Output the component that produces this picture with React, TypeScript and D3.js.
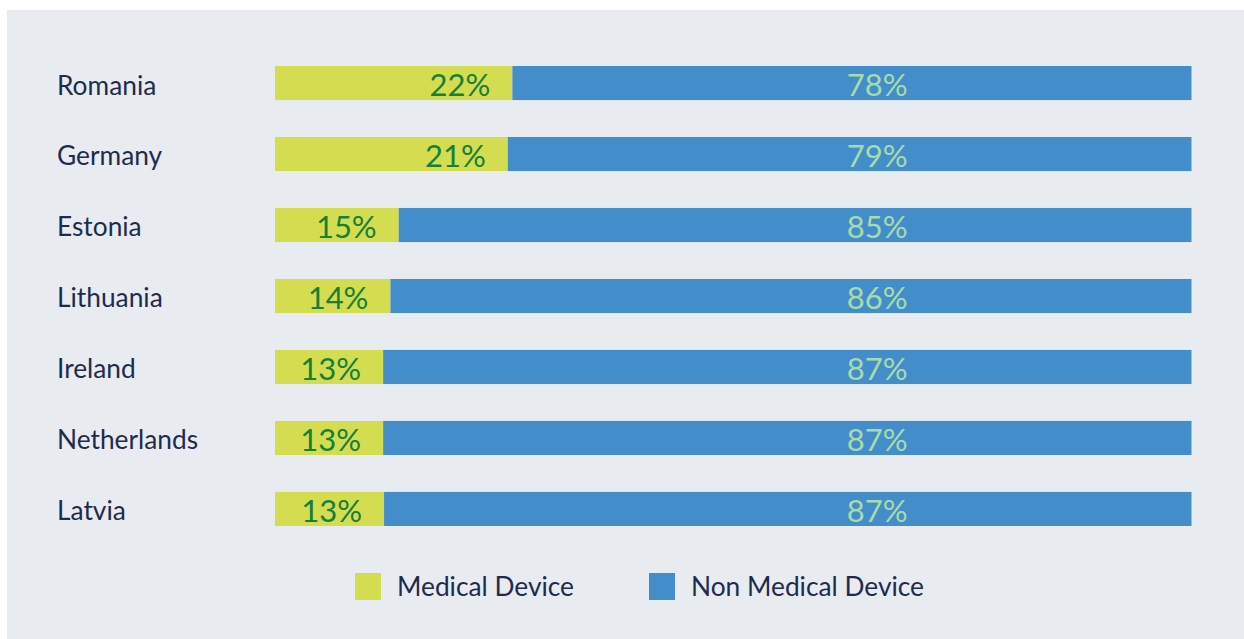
import React from "react";
import * as d3 from "d3";

const countries = ["Romania", "Germany", "Estonia", "Lithuania", "Ireland", "Netherlands", "Latvia"];
// drawn shares
const medicalShare = [25.9, 25.4, 13.5, 12.6, 11.8, 11.8, 11.9];
const nonMedicalShare = [74.1, 74.6, 86.5, 87.4, 88.2, 88.2, 88.1];
// printed labels
const medicalLabels = ["22%", "21%", "15%", "14%", "13%", "13%", "13%"];
const nonMedicalLabels = ["78%", "79%", "85%", "86%", "87%", "87%", "87%"];
const seriesNames = ["Medical Device", "Non Medical Device"];

const W = 1244;
const H = 639;
const FONT = "Lato, 'Open Sans', sans-serif";
const C_MED = "#D4DC50";
const C_NON = "#448DCB";
const BG = "#E8EBF0";
const TEXT = "#1E2B4D";
const MED_TXT = "#14803A";
const NON_TXT = "#A6DCA8";

export default function App() {
  const x = d3.scaleLinear().domain([0, 100]).range([275, 1191.5]);
  const y = d3.scaleBand<string>().domain(countries).range([66, 526]).paddingInner(0.52).paddingOuter(0);
  const bw = y.bandwidth();
  const stack = countries.map((c, i) => ({
    c,
    med: medicalShare[i],
    non: nonMedicalShare[i],
    ml: medicalLabels[i],
    nl: nonMedicalLabels[i],
  }));
  const legendX = [355, 649];
  return (
    <svg width={W} height={H} style={{ position: "absolute", left: 0, top: 0, display: "block" }}>
      <rect x={0} y={0} width={W} height={H} fill="#fff" />
      <rect x={7} y={10} width={W - 7} height={H - 10} fill={BG} />
      {stack.map((d) => {
        const y0 = y(d.c)!;
        const xs = x(d.med);
        const cy = y0 + bw / 2;
        return (
          <g key={d.c}>
            <text x={57} y={cy + 2} dy="0.36em" fontFamily={FONT} fontSize={26.3} fill={TEXT}>
              {d.c}
            </text>
            <rect x={x(0)} y={y0} width={xs - x(0)} height={bw} fill={C_MED} />
            <rect x={xs} y={y0} width={x(d.med + d.non) - xs} height={bw} fill={C_NON} />
            <text x={xs - 22} y={cy + 1.5} dy="0.36em" textAnchor="end" fontFamily={FONT} fontSize={31} fill={MED_TXT}>
              {d.ml}
            </text>
            <text x={x(65.7)} y={cy + 1.5} dy="0.36em" textAnchor="middle" fontFamily={FONT} fontSize={31} fill={NON_TXT}>
              {d.nl}
            </text>
          </g>
        );
      })}
      {seriesNames.map((s, i) => (
        <g key={s}>
          <rect x={legendX[i]} y={573} width={26} height={27} fill={i === 0 ? C_MED : C_NON} />
          <text x={legendX[i] + 42} y={587} dy="0.36em" fontFamily={FONT} fontSize={26.3} fill={TEXT}>
            {s}
          </text>
        </g>
      ))}
    </svg>
  );
}
